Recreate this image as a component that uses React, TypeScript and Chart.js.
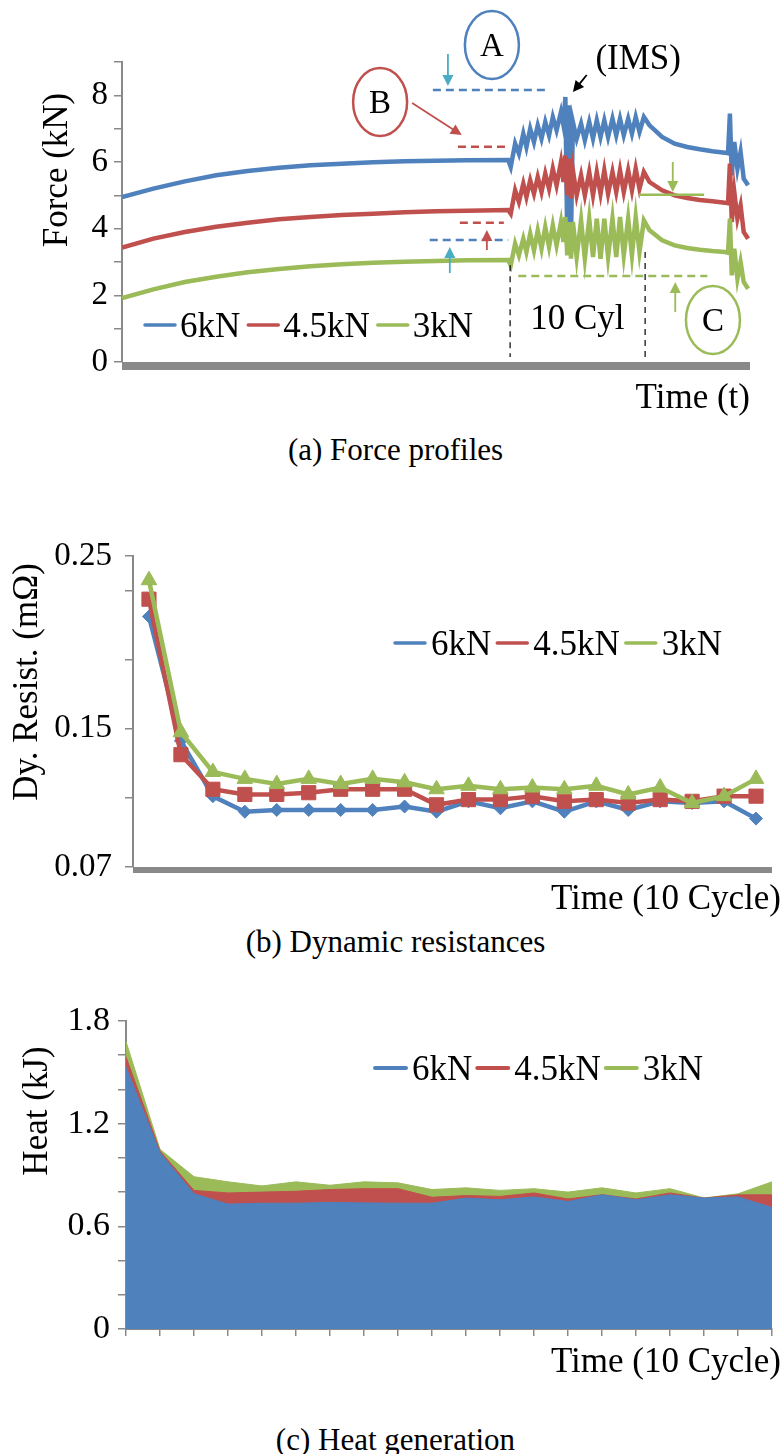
import React, { useEffect, useRef } from "react";
import { Chart, registerables } from "chart.js";

Chart.register(...registerables);

const SERIF = '"Liberation Serif", "Times New Roman", Times, serif';
const BLUE = "#4f81bd";
const RED = "#c0504d";
const GREEN = "#9bbb59";
const CYAN = "#4bacc6";
const AXIS_GRAY = "#898989";

const SERIES_LABELS = ["6kN", "4.5kN", "3kN"];
const SERIES_COLORS = [BLUE, RED, GREEN];

// ---------- (a) Force profiles ----------
const A_TIME = [0, 5, 10, 15, 20, 25, 30, 35, 40, 45, 50, 55, 61.5,
  61.9, 62.6, 63.2, 63.9, 64.4, 65.0, 65.6, 66.2, 66.8, 67.4, 68.0, 68.6, 69.2, 69.9, 70.3, 70.6, 70.9, 71.2, 71.5, 71.8,
  72.4, 73.1, 73.7, 74.4, 75.0, 75.6, 76.2, 76.8, 77.4, 78.1, 78.7, 79.3, 79.9, 80.6, 81.2, 81.8, 82.4, 83.1,
  84, 86, 88, 90, 92, 94, 96,
  96.5, 96.8, 97.1, 97.5, 98, 98.5, 99, 99.7];
const A_FORCE_6KN = [4.95, 5.2, 5.42, 5.6, 5.73, 5.83, 5.9, 5.95, 5.99, 6.02, 6.04, 6.05, 6.06,
  5.85, 6.55, 6.25, 6.85, 6.45, 7.0, 6.6, 7.1, 6.7, 7.2, 6.8, 7.35, 6.95, 7.5, 7.1, 7.95, 3.7, 7.7, 3.8, 7.2,
  6.7, 7.15, 6.65, 7.2, 6.7, 7.25, 6.75, 7.25, 6.75, 7.3, 6.8, 7.3, 6.8, 7.3, 6.85, 7.35, 6.9, 7.35,
  7.1, 6.75, 6.55, 6.45, 6.38, 6.32, 6.28,
  6.26, 7.45, 5.6, 6.6, 5.8, 6.3, 5.5, 5.3];
const A_FORCE_4_5KN = [3.43, 3.7, 3.9, 4.06, 4.18, 4.28, 4.35, 4.41, 4.45, 4.49, 4.52, 4.54, 4.56,
  4.45, 5.15, 4.8, 5.35, 4.95, 5.45, 5.05, 5.55, 5.1, 5.65, 5.2, 5.8, 5.3, 6.0, 5.4, 6.2, 5.0, 6.1, 4.9, 5.75,
  5.0, 5.6, 5.0, 5.7, 5.0, 5.7, 5.05, 5.75, 5.05, 5.7, 5.1, 5.75, 5.1, 5.75, 5.15, 5.8, 5.2, 5.7,
  5.4, 5.15, 5.0, 4.92, 4.86, 4.82, 4.78,
  4.76, 5.95, 4.2, 5.1, 4.3, 4.7, 3.9, 3.7];
const A_FORCE_3KN = [1.92, 2.18, 2.4, 2.56, 2.69, 2.79, 2.87, 2.93, 2.98, 3.01, 3.03, 3.05, 3.06,
  2.9, 3.55, 3.2, 3.7, 3.3, 3.85, 3.35, 3.95, 3.4, 4.05, 3.45, 4.1, 3.5, 4.2, 3.6, 4.35, 3.2, 4.2, 3.1, 4.2,
  3.15, 4.25, 3.1, 4.3, 3.15, 4.3, 3.1, 4.3, 3.15, 4.3, 3.15, 4.35, 3.2, 4.3, 3.2, 4.35, 3.3, 4.25,
  3.95, 3.65, 3.5, 3.42, 3.37, 3.33, 3.3,
  3.28, 4.3, 2.6, 3.4, 2.5, 3.0, 2.4, 2.2];
const A_Y_TICKS = [0, 1, 2, 3, 4, 5, 6, 7, 8, 9];
const A_Y_LABELS = ["0", "", "2", "", "4", "", "6", "", "8", ""];

// annotations of (a), in data units (time %, kN)
const A_ELLIPSES = [
  { text: "A", t: 58.9, v: 9.51, color: BLUE },
  { text: "B", t: 41.1, v: 7.8, color: RED },
  { text: "C", t: 94.1, v: 1.26, color: GREEN },
];
const A_HLINES = [
  { t0: 49.5, t1: 67.4, v: 8.16, color: BLUE, dash: true },
  { t0: 53.5, t1: 61.5, v: 6.46, color: RED, dash: true },
  { t0: 53.8, t1: 60.8, v: 4.18, color: RED, dash: true },
  { t0: 49.0, t1: 61.5, v: 3.66, color: BLUE, dash: true },
  { t0: 82.3, t1: 92.7, v: 5.02, color: GREEN, dash: false },
  { t0: 63.1, t1: 93.2, v: 2.58, color: GREEN, dash: true },
];
const A_ARROWS = [
  { t0: 51.9, v0: 9.24, t1: 51.9, v1: 8.28, color: CYAN },
  { t0: 46.2, v0: 7.77, t1: 54.1, v1: 6.81, color: RED },
  { t0: 58.1, v0: 3.36, t1: 58.1, v1: 3.96, color: RED },
  { t0: 52.2, v0: 2.67, t1: 52.2, v1: 3.45, color: CYAN },
  { t0: 87.7, v0: 6.0, t1: 87.7, v1: 5.1, color: GREEN },
  { t0: 88.1, v0: 1.5, t1: 88.1, v1: 2.4, color: GREEN },
  { t0: 74.0, v0: 8.61, t1: 71.8, v1: 8.1, color: "#000" },
];
const A_VLINES = [
  { t: 61.8, v0: 2.9, v1: 0.15 },
  { t: 83.3, v0: 3.3, v1: 0.15 },
];
const A_TEXTS = [
  { text: "(IMS)", t: 82.2, v: 9.15 },
  { text: "10 Cyl", t: 72.5, v: 1.35 },
];

// ---------- (b) Dynamic resistances ----------
const B_CYCLES = ["1", "2", "3", "4", "5", "6", "7", "8", "9", "10", "11", "12", "13", "14", "15", "16", "17", "18", "19", "20"];
const B_RES_6KN = [0.215, 0.143, 0.111, 0.102, 0.103, 0.103, 0.103, 0.103, 0.105, 0.102, 0.108, 0.104, 0.108, 0.102, 0.108, 0.103, 0.108, 0.107, 0.108, 0.098];
const B_RES_4_5KN = [0.225, 0.135, 0.115, 0.112, 0.112, 0.113, 0.115, 0.115, 0.115, 0.106, 0.109, 0.109, 0.111, 0.108, 0.109, 0.107, 0.109, 0.108, 0.111, 0.111];
const B_RES_3KN = [0.236, 0.148, 0.125, 0.121, 0.118, 0.121, 0.118, 0.121, 0.119, 0.115, 0.117, 0.115, 0.116, 0.115, 0.117, 0.112, 0.116, 0.107, 0.111, 0.121];
const B_Y_TICKS = [0.07, 0.11, 0.15, 0.19, 0.23, 0.25];
const B_Y_LABELS = ["0.07", "", "0.15", "", "", "0.25"];

// ---------- (c) Heat generation ----------
const C_CYCLES = ["1", "2", "3", "4", "5", "6", "7", "8", "9", "10", "11", "12", "13", "14", "15", "16", "17", "18", "19", "20"];
const C_HEAT_6KN = [1.53, 1.03, 0.79, 0.73, 0.735, 0.735, 0.74, 0.737, 0.735, 0.735, 0.765, 0.755, 0.772, 0.745, 0.784, 0.755, 0.784, 0.765, 0.772, 0.71];
const C_HEAT_4_5KN = [1.59, 1.04, 0.81, 0.795, 0.8, 0.805, 0.815, 0.82, 0.82, 0.77, 0.78, 0.775, 0.795, 0.76, 0.785, 0.76, 0.795, 0.765, 0.784, 0.784];
const C_HEAT_3KN = [1.68, 1.05, 0.89, 0.86, 0.836, 0.86, 0.84, 0.86, 0.854, 0.815, 0.825, 0.81, 0.82, 0.8, 0.825, 0.795, 0.82, 0.766, 0.79, 0.86];
const C_Y_TICKS = [0, 0.2, 0.4, 0.6, 0.8, 1.0, 1.2, 1.4, 1.6, 1.8];
const C_Y_LABELS = ["0", "", "", "0.6", "", "", "1.2", "", "", "1.8"];

// ---------- drawing helpers ----------
function font(size: number) {
  return `${size}px ${SERIF}`;
}

function drawCenteredText(ctx: CanvasRenderingContext2D, text: string, cx: number, cy: number, size: number, align: CanvasTextAlign = "center") {
  ctx.save();
  ctx.font = font(size);
  ctx.fillStyle = "#000";
  ctx.textAlign = align;
  ctx.textBaseline = "alphabetic";
  ctx.fillText(text, cx, cy + size * 0.33);
  ctx.restore();
}

function drawRotatedTitle(ctx: CanvasRenderingContext2D, text: string, cx: number, cy: number, size: number) {
  ctx.save();
  ctx.translate(cx, cy);
  ctx.rotate(-Math.PI / 2);
  ctx.font = font(size);
  ctx.fillStyle = "#000";
  ctx.textAlign = "center";
  ctx.textBaseline = "alphabetic";
  ctx.fillText(text, 0, size * 0.33);
  ctx.restore();
}

function drawLegend(ctx: CanvasRenderingContext2D, x: number, cy: number, size: number, lineLen: number, lineW: number, gapLine: number, gapText: number) {
  ctx.save();
  ctx.font = font(size);
  SERIES_LABELS.forEach((lab, i) => {
    ctx.strokeStyle = SERIES_COLORS[i];
    ctx.lineWidth = lineW;
    ctx.lineCap = "round";
    ctx.beginPath();
    ctx.moveTo(x, cy);
    ctx.lineTo(x + lineLen, cy);
    ctx.stroke();
    x += lineLen + gapLine;
    ctx.fillStyle = "#000";
    ctx.textAlign = "left";
    ctx.textBaseline = "alphabetic";
    ctx.fillText(lab, x, cy + size * 0.33);
    x += ctx.measureText(lab).width + gapText;
  });
  ctx.restore();
}

function drawArrow(ctx: CanvasRenderingContext2D, x0: number, y0: number, x1: number, y1: number, color: string, w: number) {
  const ang = Math.atan2(y1 - y0, x1 - x0);
  const head = 11;
  const hw = 5.5;
  ctx.save();
  ctx.strokeStyle = color;
  ctx.fillStyle = color;
  ctx.lineWidth = w;
  ctx.beginPath();
  ctx.moveTo(x0, y0);
  ctx.lineTo(x1 - Math.cos(ang) * head * 0.8, y1 - Math.sin(ang) * head * 0.8);
  ctx.stroke();
  ctx.beginPath();
  ctx.moveTo(x1, y1);
  ctx.lineTo(x1 - Math.cos(ang) * head - Math.sin(ang) * hw, y1 - Math.sin(ang) * head + Math.cos(ang) * hw);
  ctx.lineTo(x1 - Math.cos(ang) * head + Math.sin(ang) * hw, y1 - Math.sin(ang) * head - Math.cos(ang) * hw);
  ctx.closePath();
  ctx.fill();
  ctx.restore();
}

// ---------- chart configs ----------
function yAxis(min: number, max: number, ticks: number[], labels: string[], width: number, size: number, pad: number) {
  return {
    min,
    max,
    afterBuildTicks: (s: any) => {
      s.ticks = ticks.map((v) => ({ value: v }));
    },
    afterFit: (s: any) => {
      s.width = width;
    },
    ticks: {
      autoSkip: false,
      callback: (_v: any, i: number) => labels[i],
      font: { family: SERIF, size },
      color: "#000",
      padding: pad,
    },
    grid: { display: true, drawOnChartArea: false, drawTicks: true, tickLength: 8, color: AXIS_GRAY, lineWidth: 1.5 },
    border: { display: true, color: AXIS_GRAY, width: 2 },
  };
}

function configA(): any {
  const sets = [A_FORCE_6KN, A_FORCE_4_5KN, A_FORCE_3KN];
  return {
    type: "line",
    data: {
      datasets: sets.map((arr, i) => ({
        label: SERIES_LABELS[i],
        data: A_TIME.map((t, k) => ({ x: t, y: arr[k] })),
        borderColor: SERIES_COLORS[i],
        backgroundColor: SERIES_COLORS[i],
        borderWidth: 4.5,
        pointRadius: 0,
        tension: 0,
        order: 3 - i,
      })),
    },
    options: {
      responsive: false,
      animation: false,
      events: [],
      layout: { padding: { left: 0, top: 62, right: 33, bottom: 0 } },
      plugins: { legend: { display: false }, tooltip: { enabled: false } },
      scales: {
        x: {
          type: "linear",
          min: 0,
          max: 100,
          ticks: { display: false },
          grid: { display: false, drawTicks: false },
          border: { display: false },
          afterFit: (s: any) => {
            s.height = 58;
          },
        },
        y: yAxis(0, 9, A_Y_TICKS, A_Y_LABELS, 122, 33, 6),
      },
    },
    plugins: [
      {
        id: "decorA",
        afterDraw(chart: any) {
          const { ctx, chartArea: ca, scales } = chart;
          const X = (t: number) => scales.x.getPixelForValue(t);
          const Y = (v: number) => scales.y.getPixelForValue(v);
          ctx.save();
          ctx.fillStyle = AXIS_GRAY;
          ctx.fillRect(ca.left, ca.bottom, ca.right - ca.left, 8);
          ctx.restore();
          drawRotatedTitle(ctx, "Force (kN)", 55, 170, 35);
          drawCenteredText(ctx, "Time (t)", ca.right, 396, 35, "right");
          drawLegend(ctx, 145, 325, 35, 30, 3.5, 5, 8);
          A_VLINES.forEach((l) => {
            ctx.save();
            ctx.strokeStyle = "#000";
            ctx.lineWidth = 1.2;
            ctx.setLineDash([6, 5]);
            ctx.beginPath();
            ctx.moveTo(X(l.t), Y(l.v0));
            ctx.lineTo(X(l.t), Y(l.v1));
            ctx.stroke();
            ctx.restore();
          });
          A_HLINES.forEach((l) => {
            ctx.save();
            ctx.strokeStyle = l.color;
            ctx.lineWidth = 2.5;
            if (l.dash) ctx.setLineDash([8, 5]);
            ctx.beginPath();
            ctx.moveTo(X(l.t0), Y(l.v));
            ctx.lineTo(X(l.t1), Y(l.v));
            ctx.stroke();
            ctx.restore();
          });
          A_ARROWS.forEach((a) => drawArrow(ctx, X(a.t0), Y(a.v0), X(a.t1), Y(a.v1), a.color, 1.8));
          A_ELLIPSES.forEach((e) => {
            ctx.save();
            ctx.strokeStyle = e.color;
            ctx.lineWidth = 2.5;
            ctx.beginPath();
            ctx.ellipse(X(e.t), Y(e.v), 27, 34, 0, 0, Math.PI * 2);
            ctx.stroke();
            ctx.restore();
            drawCenteredText(ctx, e.text, X(e.t), Y(e.v), 33);
          });
          A_TEXTS.forEach((tx) => drawCenteredText(ctx, tx.text, X(tx.t), Y(tx.v), 35));
        },
      },
    ],
  };
}

function configB(): any {
  const sets = [B_RES_6KN, B_RES_4_5KN, B_RES_3KN];
  const styles = [
    { pointStyle: "rectRot", r: 6.5 },
    { pointStyle: "rect", r: 10 },
    { pointStyle: "triangle", r: 9 },
  ];
  return {
    type: "line",
    data: {
      labels: B_CYCLES,
      datasets: sets.map((arr, i) => ({
        label: SERIES_LABELS[i],
        data: arr,
        borderColor: SERIES_COLORS[i],
        backgroundColor: SERIES_COLORS[i],
        borderWidth: 4.5,
        pointStyle: styles[i].pointStyle,
        pointRadius: styles[i].r,
        pointBorderWidth: 1,
        pointBackgroundColor: SERIES_COLORS[i],
        pointBorderColor: SERIES_COLORS[i],
        tension: 0,
        clip: false,
        order: 3 - i,
      })),
    },
    options: {
      responsive: false,
      animation: false,
      events: [],
      layout: { padding: { left: 0, top: 56, right: 0, bottom: 0 } },
      plugins: { legend: { display: false }, tooltip: { enabled: false } },
      scales: {
        x: {
          type: "category",
          offset: true,
          ticks: { display: false, autoSkip: false },
          grid: { display: false, drawTicks: false },
          border: { display: false },
          afterFit: (s: any) => {
            s.height = 53;
          },
        },
        y: yAxis(0.07, 0.25, B_Y_TICKS, B_Y_LABELS, 133, 33, 13),
      },
    },
    plugins: [
      {
        id: "decorB",
        beforeDatasetsDraw(chart: any) {
          const { ctx, chartArea: ca } = chart;
          ctx.save();
          ctx.fillStyle = AXIS_GRAY;
          ctx.fillRect(ca.left, ca.bottom, ca.right - ca.left, 6);
          ctx.restore();
        },
        afterDraw(chart: any) {
          const { ctx } = chart;
          drawRotatedTitle(ctx, "Dy. Resist. (m\u03a9)", 25, 182, 35);
          drawCenteredText(ctx, "Time (10 Cycle)", 781, 397, 35, "right");
          drawLegend(ctx, 395, 143, 35, 30, 3.5, 6, 6);
        },
      },
    ],
  };
}

function configC(): any {
  const sets = [C_HEAT_6KN, C_HEAT_4_5KN, C_HEAT_3KN];
  return {
    type: "line",
    data: {
      labels: C_CYCLES,
      datasets: sets.map((arr, i) => ({
        label: SERIES_LABELS[i],
        data: arr,
        borderColor: SERIES_COLORS[i],
        backgroundColor: SERIES_COLORS[i],
        borderWidth: 1,
        pointRadius: 0,
        fill: "origin",
        tension: 0,
      })),
    },
    options: {
      responsive: false,
      animation: false,
      events: [],
      layout: { padding: { left: 0, top: 31, right: 11, bottom: 0 } },
      plugins: { legend: { display: false }, tooltip: { enabled: false } },
      scales: {
        x: {
          type: "category",
          offset: false,
          ticks: { display: false, autoSkip: false },
          grid: { display: true, drawOnChartArea: false, drawTicks: true, tickLength: 7, color: AXIS_GRAY, lineWidth: 1.5, offset: false },
          border: { display: true, color: AXIS_GRAY, width: 2 },
          afterFit: (s: any) => {
            s.height = 61;
          },
        },
        y: yAxis(0, 1.8, C_Y_TICKS, C_Y_LABELS, 126, 34, 8),
      },
    },
    plugins: [
      {
        id: "decorC",
        afterDraw(chart: any) {
          const { ctx } = chart;
          drawRotatedTitle(ctx, "Heat (kJ)", 35, 121, 35);
          drawCenteredText(ctx, "Time (10 Cycle)", 781, 370, 35, "right");
          drawLegend(ctx, 375, 78, 35, 31, 4, 6, 5);
        },
      },
    ],
  };
}

function ChartCanvas({ top, height, make }: { top: number; height: number; make: () => any }) {
  const ref = useRef<HTMLCanvasElement>(null);
  useEffect(() => {
    const chart = new Chart(ref.current as HTMLCanvasElement, make());
    return () => chart.destroy();
  }, []);
  return (
    <canvas
      ref={ref}
      width={783}
      height={height}
      style={{ position: "absolute", left: 0, top, width: 783, height }}
    />
  );
}

function Caption({ text, cy }: { text: string; cy: number }) {
  return (
    <div
      style={{
        position: "absolute",
        left: 4,
        width: 783,
        top: cy - 16,
        height: 32,
        lineHeight: "32px",
        textAlign: "center",
        fontFamily: SERIF,
        fontSize: 31,
        color: "#000",
        whiteSpace: "nowrap",
      }}
    >
      {text}
    </div>
  );
}

export default function App() {
  return (
    <div style={{ position: "absolute", left: 0, top: 0, width: 783, height: 1454, background: "#fff", overflow: "hidden" }}>
      <ChartCanvas top={0} height={420} make={configA} />
      <Caption text="(a) Force profiles" cy={450} />
      <ChartCanvas top={500} height={420} make={configB} />
      <Caption text="(b) Dynamic resistances" cy={942} />
      <ChartCanvas top={990} height={400} make={configC} />
      <Caption text="(c) Heat generation" cy={1440} />
    </div>
  );
}
